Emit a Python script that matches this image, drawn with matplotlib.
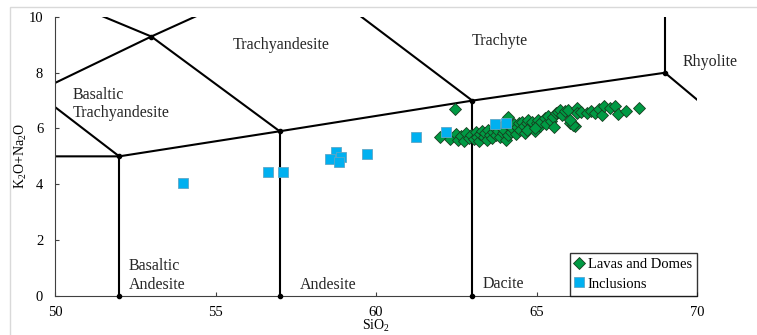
import matplotlib.pyplot as plt
from matplotlib.patches import Rectangle

plt.rcParams['font.family'] = 'Liberation Serif'
plt.rcParams['mathtext.fontset'] = 'custom'
plt.rcParams['mathtext.rm'] = 'Liberation Serif'
plt.rcParams['mathtext.it'] = 'Liberation Serif:italic'

# TAS field boundaries (SiO2, Na2O+K2O)
boundaries = [
    [(52, 0), (52, 5)],
    [(57, 0), (57, 5.9)],
    [(63, 0), (63, 7)],
    [(45, 5), (52, 5), (57, 5.9), (63, 7), (69, 8)],
    [(52, 5), (49.4, 7.3)],
    [(57, 5.9), (53, 9.3), (48.4, 11.5)],
    [(49.4, 7.3), (53, 9.3), (57.6, 11.7)],
    [(63, 7), (57.6, 11.7)],
    [(69, 8), (69, 13)],
    [(69, 8), (77.3, 0)],
]
vertices_x = [52, 57, 63, 52, 57, 63, 53, 69]
vertices_y = [0, 0, 0, 5, 5.9, 7, 9.3, 8]

field_names = ["Basaltic\nTrachyandesite", "Trachyandesite", "Trachyte", "Rhyolite",
               "Basaltic\nAndesite", "Andesite", "Dacite"]
field_x = [50.56, 57.04, 63.86, 70.4, 52.3, 57.63, 63.33]
field_y = [6.88, 9.0, 9.15, 8.37, 0.72, 0.38, 0.42]
field_ha = ['left', 'center', 'center', 'center', 'left', 'left', 'left']

lavas_sio2 = [62.0, 62.3, 62.45, 62.5, 62.55, 62.65, 62.75, 62.8, 62.9, 62.95,
              63.05, 63.1, 63.15, 63.2, 63.25, 63.3, 63.35, 63.4, 63.45, 63.5,
              63.55, 63.6, 63.65, 63.7, 63.75, 63.8, 63.85, 63.9, 63.95, 64.0,
              64.05, 64.1, 64.12, 64.15, 64.2, 64.25, 64.3, 64.35, 64.4, 64.45,
              64.5, 64.55, 64.6, 64.65, 64.7, 64.75, 64.8, 64.85, 64.95, 65.0,
              65.05, 65.1, 65.15, 65.25, 65.3, 65.35, 65.45, 65.5, 65.55, 65.6,
              65.67, 65.73, 65.8, 65.9, 65.98, 66.05, 66.2, 66.26, 66.26, 66.4,
              66.57, 66.7, 66.82, 66.95, 67.04, 67.1, 67.3, 67.45, 67.54, 67.79,
              68.19, 64.7, 64.95, 66.14, 66.04]
lavas_alk = [5.68, 5.62, 6.69, 5.80, 5.60, 5.72, 5.55, 5.85, 5.65, 5.78,
             5.62, 5.88, 5.70, 5.55, 5.80, 5.92, 5.68, 5.85, 5.60, 5.95,
             5.75, 5.66, 5.88, 6.00, 5.78, 5.90, 5.70, 6.05, 5.82, 5.95,
             5.60, 6.42, 5.75, 6.10, 5.88, 6.00, 6.15, 5.80, 6.05, 6.20,
             5.95, 6.25, 6.10, 5.85, 6.18, 6.30, 6.05, 6.22, 5.90, 6.20,
             6.32, 6.10, 6.25, 6.36, 6.15, 6.45, 6.28, 6.40, 6.05, 6.55,
             6.58, 6.68, 6.50, 6.62, 6.66, 6.18, 6.10, 6.72, 6.57, 6.60,
             6.54, 6.62, 6.57, 6.70, 6.48, 6.81, 6.75, 6.81, 6.52, 6.64,
             6.72, 5.95, 6.02, 6.13, 6.30]

incl_sio2 = [53.99, 56.63, 57.1, 58.75, 58.57, 58.91, 58.85, 59.72, 61.25, 62.18, 63.7, 64.05]
incl_alk = [4.04, 4.44, 4.44, 5.16, 4.91, 4.98, 4.80, 5.08, 5.70, 5.87, 6.16, 6.20]

fig = plt.figure(figsize=(7.57, 3.35), dpi=100)
fig.patches.append(Rectangle((10 / 757, -0.1), 1.2, 1 - 7 / 335 + 0.1, transform=fig.transFigure,
                             fill=False, edgecolor='#d9d9d9', lw=1))
ax = fig.add_axes([55 / 757, 1 - 295.7 / 335, 642 / 757, (295.7 - 17) / 335])

for seg in boundaries:
    xs = [p[0] for p in seg]
    ys = [p[1] for p in seg]
    ax.plot(xs, ys, color='black', lw=1.5, solid_capstyle='butt', zorder=2)
ax.plot(vertices_x, vertices_y, 'o', color='black', ms=3, zorder=3, clip_on=False)

for name, x, y, ha in zip(field_names, field_x, field_y, field_ha):
    ax.text(x, y, name, ha=ha, va='center', fontsize=11.5, color='#262626')

ax.plot(lavas_sio2, lavas_alk, 'D', ms=6, color='#009a44', mec='#173d1f', mew=0.6,
        ls='none', zorder=4, label='Lavas and Domes')
ax.plot(incl_sio2, incl_alk, 's', ms=6.5, color='#00b0f0', mec='#5fa7c6', mew=0.6,
        ls='none', zorder=5, label='Inclusions')

ax.set_xlim(50, 70)
ax.set_ylim(0, 10)
ax.set_xticks([50, 55, 60, 65, 70])
ax.set_yticks([0, 2, 4, 6, 8, 10])
ax.tick_params(direction='in', length=3, width=0.8, labelsize=10.5, pad=8.5, colors='#404040',
               labelcolor='black')
ax.tick_params(axis='x', pad=7.5)
ax.spines['top'].set_visible(False)
ax.spines['right'].set_visible(False)
ax.spines['left'].set_color('#404040')
ax.spines['bottom'].set_color('#404040')
ax.set_xlabel('SiO$_2$', fontsize=10, labelpad=-1)
ax.set_ylabel('K$_2$O+Na$_2$O', fontsize=10, labelpad=0)

leg = ax.legend(loc='lower right', bbox_to_anchor=(1, 0), borderaxespad=0, fontsize=10.5,
                frameon=True, fancybox=False, edgecolor='black', handlelength=0.6,
                handletextpad=0.3, borderpad=0.35, labelspacing=0.45)
leg.get_frame().set_linewidth(1)

fig.savefig('out.png', dpi=100)
